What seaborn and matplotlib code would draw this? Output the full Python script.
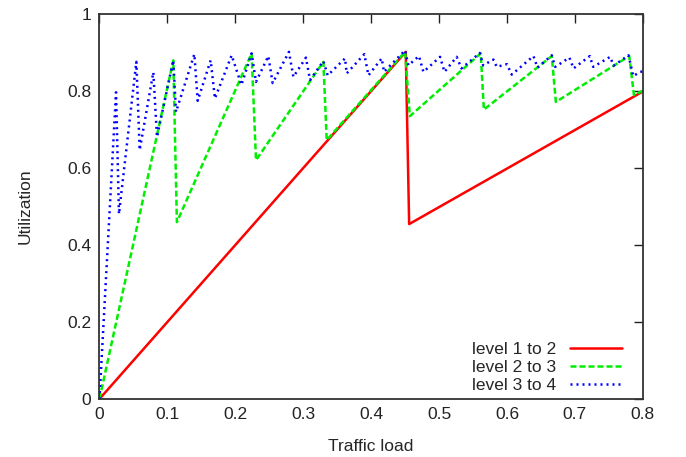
import numpy as np
import pandas as pd
import matplotlib
matplotlib.use("Agg")
import matplotlib.pyplot as plt
import seaborn as sns

labels = ["level 1 to 2", "level 2 to 3", "level 3 to 4"]

red_x = [0.0, 0.451, 0.456, 0.800]
red_y = [0.0, 0.901, 0.454, 0.798]

green_x = [0.0, 0.1087, 0.114, 0.224, 0.2305, 0.3297, 0.3346, 0.450, 0.457,
           0.5614, 0.566, 0.666, 0.672, 0.780, 0.787, 0.800]
green_y = [0.0, 0.879, 0.459, 0.897, 0.620, 0.875, 0.672, 0.901, 0.734,
           0.897, 0.751, 0.890, 0.771, 0.890, 0.789, 0.800]

blue_x = [0.0, 0.0244, 0.0287, 0.0543, 0.0592, 0.0793, 0.0847, 0.1087, 0.1127,
          0.1397, 0.1446, 0.1637, 0.170, 0.1946, 0.209, 0.224, 0.2305, 0.2486,
          0.255, 0.279, 0.2855, 0.304, 0.310, 0.3297, 0.336, 0.3616, 0.364,
          0.390, 0.396, 0.4156, 0.419, 0.450, 0.4548, 0.4705, 0.477, 0.5015,
          0.508, 0.526, 0.533, 0.560, 0.565, 0.580, 0.585, 0.600, 0.607,
          0.639, 0.645, 0.666, 0.671, 0.692, 0.698, 0.722, 0.727, 0.752,
          0.757, 0.779, 0.786, 0.796, 0.800]
blue_y = [0.0, 0.796, 0.480, 0.875, 0.646, 0.848, 0.680, 0.879, 0.745,
          0.895, 0.774, 0.879, 0.780, 0.892, 0.815, 0.897, 0.823, 0.890,
          0.820, 0.901, 0.836, 0.886, 0.828, 0.877, 0.840, 0.884, 0.845,
          0.895, 0.840, 0.884, 0.849, 0.905, 0.866, 0.890, 0.849, 0.888,
          0.849, 0.888, 0.858, 0.898, 0.866, 0.881, 0.862, 0.869, 0.842,
          0.890, 0.860, 0.892, 0.862, 0.886, 0.858, 0.890, 0.862, 0.888,
          0.865, 0.892, 0.838, 0.849, 0.850]

xticks = [0, 0.1, 0.2, 0.3, 0.4, 0.5, 0.6, 0.7, 0.8]
xtick_labels = ["0", "0.1", "0.2", "0.3", "0.4", "0.5", "0.6", "0.7", "0.8"]
yticks = [0, 0.2, 0.4, 0.6, 0.8, 1.0]
ytick_labels = ["0", "0.2", "0.4", "0.6", "0.8", "1"]

df = pd.concat([
    pd.DataFrame({"load": red_x, "util": red_y, "series": labels[0]}),
    pd.DataFrame({"load": green_x, "util": green_y, "series": labels[1]}),
    pd.DataFrame({"load": blue_x, "util": blue_y, "series": labels[2]}),
], ignore_index=True)

sns.set_style("white")
plt.rcParams["font.family"] = ["Liberation Sans", "DejaVu Sans"]

fig = plt.figure(figsize=(6.86, 4.57), dpi=100)
ax = fig.add_axes([0.145, 0.127, 0.792, 0.843])

palette = {labels[0]: "#ff0000", labels[1]: "#00ee00", labels[2]: "#0000ff"}
dashes = {labels[0]: "", labels[1]: (2.4, 1.2), labels[2]: (0.8, 1.6)}

sns.lineplot(data=df, x="load", y="util", hue="series", style="series",
             palette=palette, dashes=dashes, sort=False, estimator=None,
             linewidth=1.8, ax=ax, legend=True)

ax.set_xlim(0, 0.8)
ax.set_ylim(0, 1.0)
ax.set_xticks(xticks)
ax.set_xticklabels(xtick_labels)
ax.set_yticks(yticks)
ax.set_yticklabels(ytick_labels)
ax.tick_params(direction="in", length=6.5, width=1, top=True, right=True,
               labelsize=12.5, colors="#222222", pad=6)
for s in ax.spines.values():
    s.set_visible(True)
    s.set_color("#333333")
    s.set_linewidth(1.3)

ax.set_xlabel("Traffic load", fontsize=12.5, labelpad=12)
ax.set_ylabel("Utilization", fontsize=12.5, labelpad=25)

handles, lbls = ax.get_legend_handles_labels()
leg = ax.legend(handles, lbls, loc="lower right", frameon=False,
                markerfirst=False, fontsize=12.5, handlelength=3.0,
                handletextpad=0.8, labelspacing=0.15,
                bbox_to_anchor=(0.99, -0.025))
for t in leg.get_texts():
    t.set_ha("right")
leg._legend_box.align = "right"

fig.savefig("out.png", dpi=100)
